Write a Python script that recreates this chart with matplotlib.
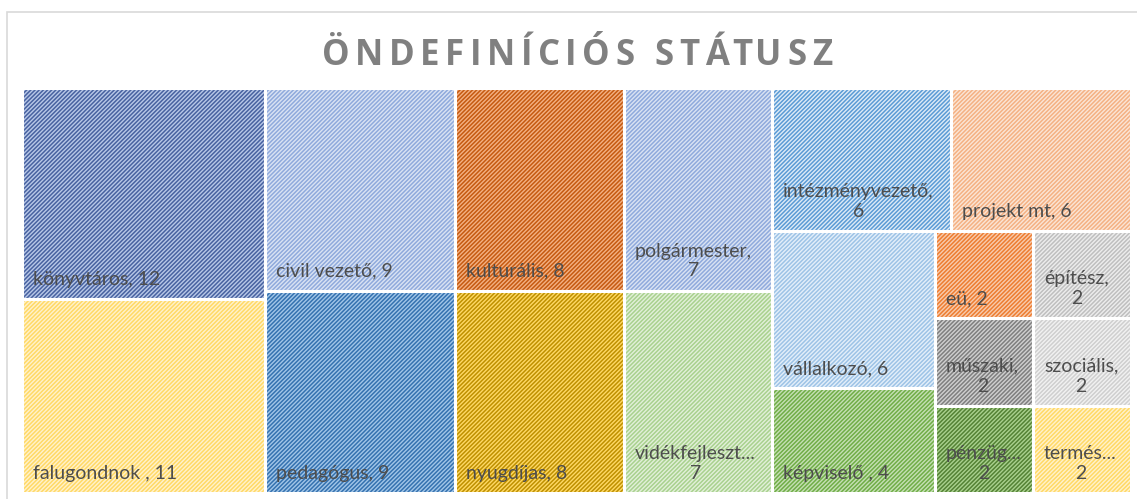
import matplotlib
matplotlib.use('Agg')
import matplotlib.pyplot as plt
from matplotlib.patches import Rectangle

# adatok (sorrend = treemap sorrend)
names = ['könyvtáros', 'falugondnok ', 'civil vezető', 'pedagógus', 'kulturális', 'nyugdíjas',
         'polgármester', 'vidékfejleszt...', 'intézményvezető', 'projekt mt', 'vállalkozó',
         'képviselő ', 'eü', 'építész', 'műszaki', 'pénzüg...', 'szociális', 'termés...']
values = [12, 11, 9, 9, 8, 8, 7, 7, 6, 6, 6, 4, 2, 2, 2, 2, 2, 2]
# (csík szín, háttér szín)
colors = [('#4862a0', '#b8c8e8'), ('#ffd966', '#fff2cc'), ('#8faadc', '#dae3f3'),
          ('#3572b0', '#a2c6e8'), ('#c55a11', '#f4b183'), ('#bf9000', '#ffd966'),
          ('#8faadc', '#dae3f3'), ('#a9d18e', '#e2f0d9'), ('#5b9bd5', '#deebf7'),
          ('#f4b183', '#fbe5d6'), ('#9dc3e6', '#e4effa'), ('#70ad47', '#c5e0b4'),
          ('#ed7d31', '#f8cbad'), ('#bfbfbf', '#ededed'), ('#7f7f7f', '#d0d0d0'),
          ('#548235', '#a9d18e'), ('#cfcfcf', '#f2f2f2'), ('#ffd966', '#fff2cc')]
title = 'ÖNDEFINÍCIÓS STÁTUSZ'


def worst(row, side):
    s = sum(row)
    return max(max(side * side * r / (s * s), s * s / (side * side * r)) for r in row)


def squarify(sizes, x, y, w, h):
    tot = float(sum(sizes))
    sizes = [v * w * h / tot for v in sizes]
    rects = []
    while sizes:
        side = min(w, h)
        row = [sizes[0]]
        i = 1
        while i < len(sizes) and worst(row + [sizes[i]], side) <= worst(row, side):
            row.append(sizes[i])
            i += 1
        s = sum(row)
        if w >= h:
            cw = s / h
            yy = y
            for a in row:
                rects.append((x, yy, cw, a / cw))
                yy += a / cw
            x += cw
            w -= cw
        else:
            rh = s / w
            xx = x
            for a in row:
                rects.append((xx, y, a / rh, rh))
                xx += a / rh
            y += rh
            h -= rh
        sizes = sizes[len(row):]
    return rects


W, H = 1109, 405
plt.rcParams['hatch.linewidth'] = 1.1
fig = plt.figure(figsize=(11.37, 4.99), dpi=100)
fig.patches.append(Rectangle((7 / 1137, -0.1), 1.2, 1.1 - 12 / 499, transform=fig.transFigure,
                             fill=False, edgecolor='#d9d9d9', lw=1.2))
ax = fig.add_axes([22 / 1137, 6 / 499, W / 1137, H / 499])
ax.set_xlim(0, W)
ax.set_ylim(H, 0)
ax.axis('off')

rects = squarify(values, 0, 0, W, H)
fig.canvas.draw()
r = fig.canvas.get_renderer()
for (x, y, w, h), nm, v, (hc, fc) in zip(rects, names, values, colors):
    ax.add_patch(Rectangle((x, y), w, h, facecolor=fc, edgecolor=hc, hatch='////////', lw=0))
    ax.add_patch(Rectangle((x, y), w, h, fill=False, edgecolor='white', lw=2.2))
    sep = '' if nm.endswith('...') else ','
    t = ax.text(x + 11, y + h - 11, f'{nm}{sep} {v}', ha='left', va='bottom', fontsize=14,
                family='Lato', color='#4d4d4d', multialignment='center')
    if t.get_window_extent(r).width > w - 24:
        t.set_text(f'{nm}{sep}\n{v}')

# cím betűközzel
tkw = dict(fontsize=25, family='Open Sans', fontweight='bold', color='#808080')
sp = 5.5
full = fig.text(0, 0, title, **tkw).get_window_extent(r).width
fig.texts[-1].remove()
x0 = 577 - (full + sp * (len(title) - 1)) / 2
for i, ch in enumerate(title):
    pre = 0
    if i > 0:
        tmp = fig.text(0, 0, title[:i], **tkw)
        pre = tmp.get_window_extent(r).width
        tmp.remove()
    fig.text((x0 + pre + sp * i) / 1137, 1 - 65 / 499, ch, ha='left', va='baseline', **tkw)

fig.savefig('out.png', dpi=100)
